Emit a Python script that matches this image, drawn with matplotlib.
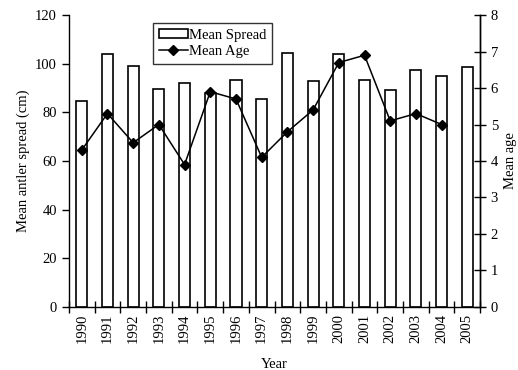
import matplotlib
matplotlib.use("Agg")
import matplotlib.pyplot as plt
import numpy as np

years = [str(y) for y in range(1990, 2006)]
mean_spread = [84.5, 104.0, 99.0, 89.8, 92.0, 87.8, 93.2, 85.6,
               104.6, 93.0, 104.0, 93.2, 89.2, 97.6, 95.0, 98.5]
mean_age = [4.3, 5.3, 4.5, 5.0, 3.9, 5.9, 5.7, 4.1,
            4.8, 5.4, 6.7, 6.9, 5.1, 5.3, 5.0, np.nan]

plt.rcParams["font.family"] = ["Liberation Serif", "DejaVu Serif"]
plt.rcParams["font.size"] = 10.5

fig = plt.figure(figsize=(5.18, 3.70), dpi=100)
ax = fig.add_axes([0.133, 0.171, 0.794, 0.788])
ax2 = ax.twinx()

x = np.arange(len(years))
bars = ax.bar(x, mean_spread, width=0.43, color="white", edgecolor="black",
              linewidth=1.2, label="Mean Spread", zorder=2)
line, = ax2.plot(x, mean_age, color="black", marker="D", markersize=5.5,
                 linewidth=1.1, label="Mean Age")

ax.set_xlim(-0.5, len(years) - 0.5)
ax.set_ylim(0, 120)
ax2.set_ylim(0, 8)
ax.set_yticks(range(0, 121, 20))
ax2.set_yticks(range(0, 9))

# category boundaries get the tick marks, labels sit in the middle
ax.set_xticks(np.arange(-0.5, len(years), 1.0))
ax.set_xticklabels([])
ax.set_xticks(x, minor=True)
ax.set_xticklabels(years, minor=True, rotation=90)
ax.tick_params(axis="x", which="major", direction="inout", length=8, width=1)
ax.tick_params(axis="x", which="minor", length=0, pad=5)
ax.tick_params(axis="y", direction="out", length=5, width=1)
ax2.tick_params(axis="y", direction="inout", length=8, width=1)

for a in (ax, ax2):
    a.spines["top"].set_visible(False)
    for s in ("left", "right", "bottom"):
        a.spines[s].set_linewidth(1.0)
ax2.spines["left"].set_visible(False)
ax2.spines["bottom"].set_visible(False)

ax.set_xlabel("Year", labelpad=11)
ax.set_ylabel("Mean antler spread (cm)", labelpad=4)
ax2.set_ylabel("Mean age", labelpad=4)

leg = ax.legend([bars, line], ["Mean Spread", "Mean Age"],
                loc="upper left", bbox_to_anchor=(0.204, 0.973),
                frameon=True, fancybox=False, edgecolor="black",
                borderpad=0.4, handlelength=2.0, handleheight=0.6,
                handletextpad=0.1, labelspacing=0.2, borderaxespad=0)
leg.get_frame().set_linewidth(1.0)
leg.set_zorder(5)

fig.savefig("out.png", dpi=100)
plt.close(fig)
